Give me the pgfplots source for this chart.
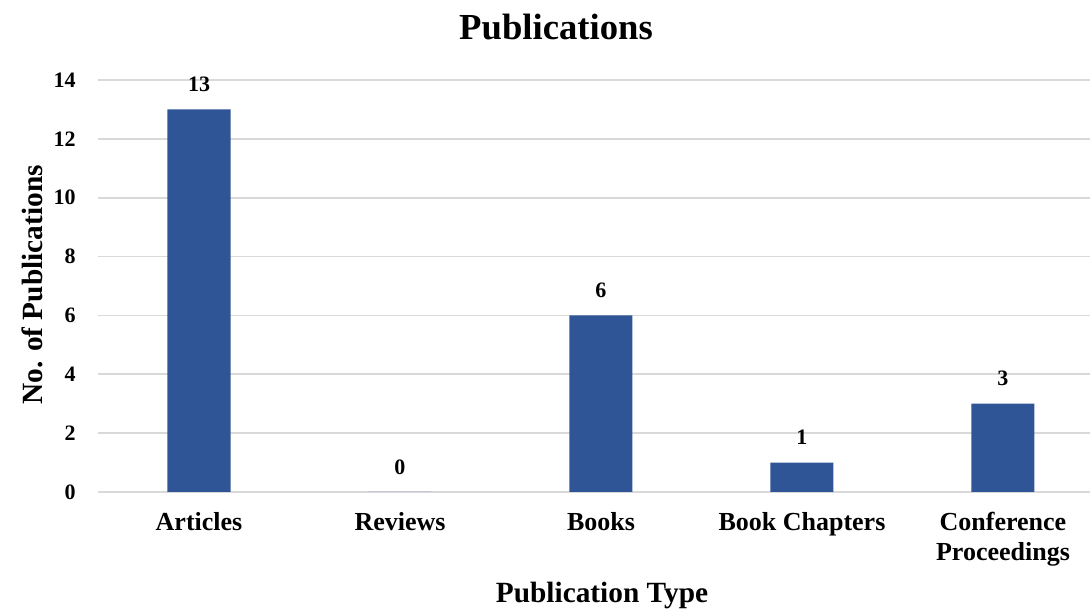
\documentclass[border=0pt]{standalone}
\usepackage{pgfplots}
\pgfplotsset{compat=1.18}
\usepackage{fontspec}
\setmainfont{Liberation Serif}
\definecolor{barblue}{HTML}{2F5597}
\definecolor{gridgray}{HTML}{D9D9D9}
\begin{document}
\begin{tikzpicture}
\begin{axis}[
  at={(73.5pt,89.25pt)}, anchor=south west,
  scale only axis, width=744pt, height=309pt,
  xmin=-0.5025, xmax=4.433,
  ymin=0, ymax=14,
  ytick={0,2,...,14},
  xtick={0,1,2,3,4},
  xticklabels={Articles,Reviews,Books,Book Chapters,{Conference\\Proceedings}},
  major tick length=0pt,
  axis line style={draw=none},
  ymajorgrids,
  grid style={color=gridgray, line width=1.2pt},
  /pgf/number format/assume math mode=true,
  yticklabel style={font=\fontsize{16.5}{19}\selectfont\bfseries, anchor=east, inner sep=0pt, xshift=-16.5pt},
  xticklabel style={font=\fontsize{19.5}{22.5}\selectfont\bfseries, anchor=north, align=center, inner sep=0pt, yshift=-15pt},
  ybar, bar width=47.25pt,
  nodes near coords,
  every node near coord/.append style={font=\fontsize{16.5}{19}\selectfont\bfseries, anchor=center, yshift=18.75pt, inner sep=0pt},
  clip=false,
]
\addplot[fill=barblue, draw=none] coordinates {(0,13) (1,0) (2,6) (3,1) (4,3)};
\end{axis}
\begin{scope}[x=0.75pt,y=0.75pt]
\node[font=\fontsize{27.5}{30}\selectfont\bfseries] at (556,584) {Publications};
\node[font=\fontsize{22}{25}\selectfont\bfseries, rotate=90] at (32,326) {No. of Publications};
\node[font=\fontsize{22}{25}\selectfont\bfseries] at (602,16) {Publication Type};
\pgfresetboundingbox
\path[use as bounding box] (0,0) rectangle (1090,611);
\end{scope}
\end{tikzpicture}
\end{document}
